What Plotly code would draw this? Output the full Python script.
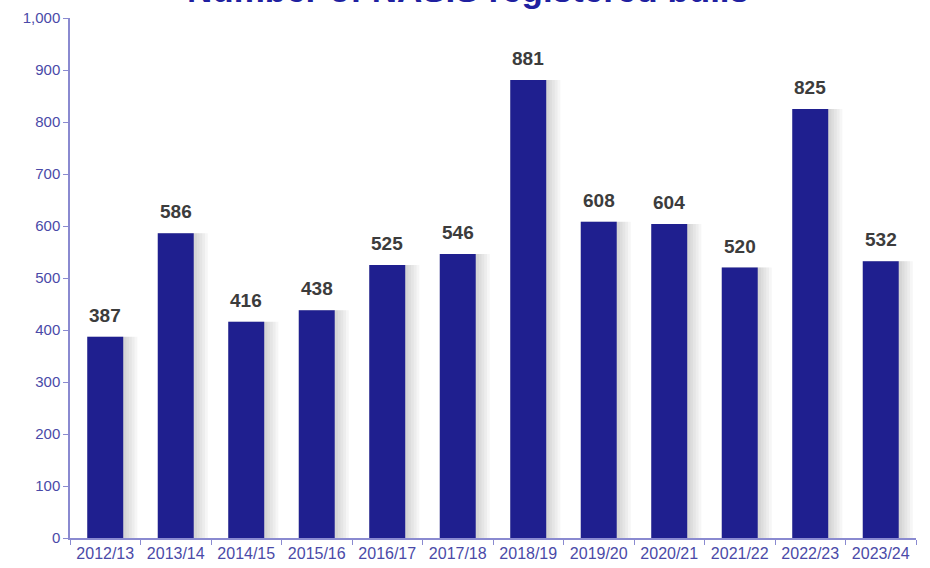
import plotly.graph_objects as go

categories = ["2012/13", "2013/14", "2014/15", "2015/16", "2016/17", "2017/18",
              "2018/19", "2019/20", "2020/21", "2021/22", "2022/23", "2023/24"]
values = [387, 586, 416, 438, 525, 546, 881, 608, 604, 520, 825, 532]
y_ticks = [0, 100, 200, 300, 400, 500, 600, 700, 800, 900, 1000]
y_tick_labels = ["0", "100", "200", "300", "400", "500", "600", "700", "800", "900", "1,000"]
title_text = "Number of NASIS registered bulls"

bar_color = "#1f1f8f"
axis_color = "#8a8ad0"
tick_font_color = "#4a4aa8"
FONT = "Arial, Liberation Sans"

fig = go.Figure()
# soft shadow to the right of each bar (stacked translucent layers -> gradient)
for w in [0.71, 0.67, 0.63, 0.59, 0.555]:
    fig.add_trace(go.Bar(
        x=categories, y=values, width=w, offset=-0.255,
        marker=dict(color="rgba(90,90,90,0.055)", line=dict(width=0)),
        hoverinfo="skip", showlegend=False,
    ))
fig.add_trace(go.Bar(
    x=categories, y=values, width=0.51, offset=-0.255,
    marker=dict(color=bar_color, line=dict(width=0)),
    showlegend=False,
))

for c, v in zip(categories, values):
    fig.add_annotation(
        x=c, y=v, text=f"<b>{v}</b>", showarrow=False,
        xanchor="center", yanchor="bottom", yshift=9,
        font=dict(family=FONT, size=19, color="#3c3c3c"),
    )

fig.update_layout(
    width=930, height=568, barmode="overlay",
    margin=dict(l=70, r=14, t=18, b=30),
    plot_bgcolor="white", paper_bgcolor="white",
    font=dict(family=FONT),
)
fig.add_annotation(
    text=f"<b>{title_text}</b>", xref="paper", yref="paper",
    x=0.47, y=1.0, yshift=7, xanchor="center", yanchor="bottom",
    showarrow=False, font=dict(family=FONT, size=35, color="#2020a0"),
)
fig.update_xaxes(
    type="category", showline=True, linecolor=axis_color, linewidth=1.5,
    ticks="outside", tickson="boundaries", ticklen=5, tickcolor=axis_color,
    tickfont=dict(family=FONT, size=16, color=tick_font_color), showgrid=False,
    range=[-0.5, 11.5], automargin=False,
)
fig.update_yaxes(
    range=[0, 1000], tickvals=y_ticks, ticktext=y_tick_labels,
    showline=True, linecolor=axis_color, linewidth=1.5,
    ticks="outside", ticklen=5, tickcolor=axis_color,
    tickfont=dict(family=FONT, size=15, color=tick_font_color), showgrid=False,
    zeroline=False, automargin=False,
)
fig.write_html("out.html")
